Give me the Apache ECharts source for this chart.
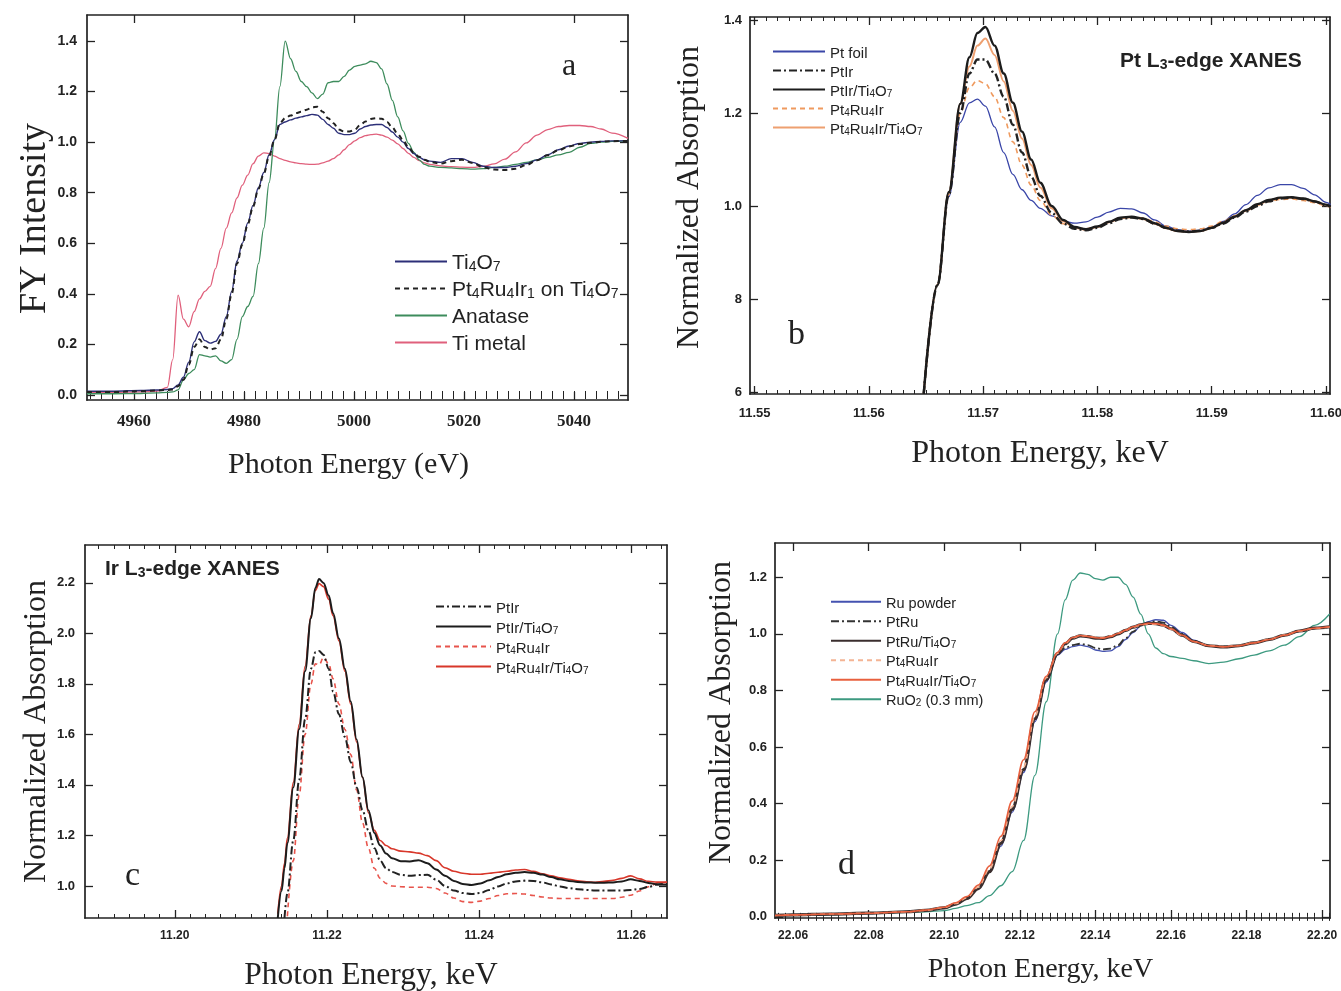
<!DOCTYPE html>
<html><head><meta charset="utf-8">
<script src="https://cdn.jsdelivr.net/npm/echarts@6/dist/echarts.min.js"></script>
<style>html,body{margin:0;padding:0;background:#fff}#c{width:1341px;height:991px}</style>
</head><body><div id="c"></div>
<script>
// ================= DATA =================
// Panel a : Ti K-edge, FY intensity vs photon energy (eV)
const aEnergy = [4951.45,4956.32,4961.19,4964.11,4966.06,4967.03,4968.01,4968.98,4969.95,4970.93,4971.90,4972.88,4973.85,4974.82,4975.80,4976.77,4977.75,4978.72,4979.69,4980.67,4981.64,4982.61,4983.59,4984.56,4985.54,4986.51,4987.48,4988.46,4989.43,4990.41,4991.38,4992.35,4993.33,4994.30,4995.28,4996.25,4997.22,4998.20,4999.17,5000.14,5001.12,5002.09,5003.07,5004.04,5005.01,5005.99,5006.96,5007.94,5008.91,5009.88,5010.86,5011.83,5012.81,5013.78,5015.73,5017.67,5019.62,5021.57,5023.52,5025.47,5027.41,5029.36,5031.31,5033.26,5035.20,5037.15,5039.10,5041.05,5043.00,5044.94,5046.89,5049.81];
const aTi4O7 = [0.015,0.015,0.018,0.02,0.022,0.025,0.04,0.07,0.13,0.21,0.25,0.215,0.205,0.212,0.24,0.31,0.41,0.53,0.60,0.68,0.75,0.82,0.88,0.95,1.01,1.07,1.08,1.088,1.095,1.10,1.105,1.11,1.107,1.09,1.07,1.055,1.035,1.03,1.03,1.035,1.052,1.062,1.068,1.07,1.07,1.058,1.04,1.02,1.0,0.975,0.955,0.94,0.93,0.925,0.92,0.935,0.935,0.92,0.905,0.90,0.90,0.905,0.915,0.93,0.95,0.97,0.985,0.995,1.0,1.003,1.005,1.006];
const aPtRuIrOnTi4O7 = [0.012,0.012,0.015,0.018,0.02,0.022,0.035,0.06,0.12,0.19,0.22,0.19,0.18,0.185,0.22,0.30,0.40,0.52,0.595,0.675,0.745,0.815,0.875,0.945,1.01,1.075,1.095,1.105,1.115,1.12,1.128,1.138,1.14,1.12,1.095,1.075,1.05,1.042,1.042,1.05,1.068,1.082,1.092,1.095,1.093,1.08,1.058,1.032,1.008,0.98,0.958,0.942,0.93,0.922,0.915,0.925,0.93,0.918,0.90,0.892,0.89,0.895,0.91,0.928,0.948,0.968,0.983,0.993,0.998,1.002,1.004,1.005];
const aAnatase = [0.005,0.005,0.006,0.008,0.01,0.012,0.02,0.06,0.085,0.10,0.16,0.155,0.15,0.155,0.135,0.125,0.14,0.22,0.31,0.35,0.39,0.52,0.66,0.84,1.01,1.22,1.40,1.33,1.28,1.24,1.22,1.195,1.172,1.19,1.235,1.24,1.24,1.26,1.285,1.30,1.305,1.31,1.32,1.315,1.29,1.23,1.165,1.10,1.045,0.995,0.96,0.93,0.912,0.905,0.90,0.898,0.895,0.893,0.895,0.90,0.905,0.912,0.92,0.93,0.94,0.95,0.96,0.98,0.995,1.0,1.003,1.005];
const aTiMetal = [0.01,0.01,0.012,0.015,0.03,0.14,0.395,0.30,0.27,0.33,0.38,0.41,0.43,0.50,0.58,0.66,0.72,0.78,0.83,0.87,0.915,0.945,0.958,0.955,0.945,0.935,0.928,0.922,0.918,0.915,0.913,0.912,0.913,0.918,0.925,0.935,0.95,0.97,0.99,1.005,1.018,1.026,1.03,1.032,1.028,1.02,1.008,0.993,0.975,0.956,0.94,0.927,0.918,0.912,0.906,0.903,0.901,0.90,0.904,0.914,0.933,0.962,0.997,1.028,1.05,1.062,1.066,1.066,1.062,1.052,1.036,1.015];

// Panel b : Pt L3-edge XANES (keV)
const bEnergy = [11.5648,11.566,11.567,11.568,11.5688,11.5695,11.5702,11.571,11.5718,11.5726,11.5734,11.5742,11.575,11.576,11.577,11.578,11.579,11.58,11.581,11.582,11.583,11.584,11.585,11.586,11.587,11.588,11.589,11.59,11.591,11.592,11.593,11.594,11.595,11.596,11.597,11.598,11.599,11.6,11.6004];
const bPtFoil = [0.596,0.83,1.02,1.18,1.222,1.23,1.215,1.17,1.115,1.068,1.035,1.012,0.995,0.979,0.968,0.963,0.966,0.976,0.987,0.995,0.994,0.985,0.97,0.957,0.949,0.946,0.948,0.955,0.967,0.983,1.003,1.023,1.039,1.046,1.046,1.038,1.024,1.008,1.003];
const bPtIr = [0.596,0.83,1.025,1.2,1.285,1.315,1.315,1.285,1.235,1.175,1.115,1.063,1.022,0.985,0.962,0.951,0.948,0.953,0.963,0.972,0.975,0.972,0.962,0.953,0.947,0.945,0.947,0.953,0.962,0.975,0.988,1.0,1.01,1.016,1.018,1.015,1.01,1.002,0.998];
const bPtIrTi4O7 = [0.596,0.83,1.03,1.22,1.32,1.372,1.385,1.345,1.285,1.222,1.16,1.10,1.05,1.0,0.97,0.955,0.95,0.956,0.966,0.975,0.977,0.973,0.963,0.953,0.946,0.944,0.946,0.953,0.964,0.977,0.991,1.004,1.013,1.018,1.019,1.016,1.01,1.003,0.999];
const bPt4Ru4Ir = [0.596,0.83,1.025,1.2,1.255,1.27,1.263,1.235,1.19,1.138,1.088,1.045,1.012,0.98,0.962,0.953,0.951,0.955,0.965,0.974,0.977,0.974,0.966,0.957,0.951,0.949,0.951,0.957,0.967,0.979,0.991,1.002,1.01,1.014,1.015,1.012,1.007,1.0,0.997];
const bPt4Ru4IrTi4O7 = [0.596,0.83,1.03,1.22,1.30,1.345,1.36,1.325,1.268,1.205,1.145,1.088,1.04,0.995,0.967,0.953,0.949,0.955,0.965,0.974,0.976,0.972,0.962,0.952,0.946,0.944,0.946,0.953,0.964,0.977,0.99,1.003,1.012,1.017,1.018,1.015,1.009,1.002,0.998];

// Panel c : Ir L3-edge XANES (keV)
const cEnergy = [11.21354,11.21403,11.21442,11.21480,11.21558,11.21635,11.21713,11.21790,11.21848,11.21897,11.21955,11.22023,11.22081,11.22158,11.22236,11.22313,11.22390,11.22468,11.22545,11.22623,11.22700,11.22778,11.22855,11.22971,11.23088,11.23204,11.23320,11.23436,11.23552,11.23669,11.23785,11.23901,11.24017,11.24133,11.24250,11.24366,11.24482,11.24598,11.24714,11.24831,11.24947,11.25063,11.25179,11.25295,11.25412,11.25528,11.25644,11.25760,11.25876,11.25993,11.26109,11.26225,11.26341,11.2647];
const cPtIr = [null,null,0.873,0.97,1.18,1.42,1.66,1.86,1.925,1.93,1.915,1.86,1.77,1.68,1.59,1.49,1.39,1.30,1.22,1.15,1.10,1.07,1.055,1.044,1.04,1.043,1.044,1.025,1.0,0.982,0.972,0.968,0.972,0.984,0.998,1.01,1.018,1.021,1.02,1.014,1.006,0.998,0.991,0.987,0.984,0.982,0.982,0.982,0.982,0.984,0.988,0.996,1.006,1.01];
const cPtIrTi4O7 = [0.873,0.98,1.07,1.17,1.39,1.62,1.85,2.06,2.18,2.215,2.20,2.15,2.08,1.98,1.86,1.73,1.58,1.43,1.30,1.21,1.16,1.128,1.11,1.098,1.097,1.102,1.09,1.065,1.04,1.02,1.008,1.004,1.01,1.022,1.035,1.046,1.052,1.055,1.052,1.045,1.035,1.026,1.02,1.016,1.014,1.013,1.013,1.014,1.018,1.026,1.02,1.012,1.006,1.005];
const cPt4Ru4Ir = [null,null,null,0.88,1.1,1.36,1.60,1.80,1.88,1.875,1.905,1.88,1.82,1.72,1.62,1.52,1.38,1.25,1.15,1.07,1.03,1.01,1.0,0.997,0.995,0.995,0.995,0.99,0.972,0.952,0.938,0.935,0.94,0.95,0.962,0.969,0.97,0.968,0.962,0.956,0.952,0.95,0.95,0.95,0.95,0.95,0.95,0.95,0.955,0.963,0.98,0.997,1.01,1.015];
const cPt4Ru4IrTi4O7 = [0.89,1.0,1.09,1.19,1.41,1.64,1.87,2.07,2.17,2.197,2.185,2.135,2.07,1.97,1.85,1.72,1.57,1.43,1.29,1.22,1.18,1.16,1.147,1.138,1.135,1.13,1.12,1.1,1.072,1.058,1.05,1.046,1.046,1.05,1.054,1.058,1.063,1.065,1.058,1.048,1.04,1.032,1.026,1.02,1.016,1.014,1.018,1.022,1.03,1.04,1.028,1.018,1.015,1.015];

// Panel d : Ru K-edge XANES (keV)
const dEnergy = [22.0552,22.06,22.07,22.08,22.09,22.095,22.1,22.103,22.106,22.109,22.112,22.115,22.118,22.121,22.124,22.127,22.13,22.132,22.134,22.136,22.138,22.14,22.142,22.144,22.146,22.148,22.15,22.152,22.154,22.156,22.158,22.16,22.163,22.166,22.17,22.174,22.178,22.182,22.186,22.19,22.194,22.198,22.202];
const dRuPowder = [0.005,0.007,0.01,0.013,0.018,0.023,0.032,0.045,0.065,0.10,0.16,0.25,0.37,0.51,0.69,0.83,0.925,0.945,0.955,0.96,0.955,0.943,0.938,0.94,0.955,0.98,1.005,1.028,1.043,1.05,1.048,1.03,1.005,0.978,0.958,0.954,0.958,0.968,0.98,0.995,1.01,1.02,1.025];
const dPtRu = [0.005,0.007,0.01,0.013,0.018,0.023,0.032,0.045,0.065,0.10,0.16,0.26,0.38,0.52,0.70,0.835,0.93,0.95,0.96,0.965,0.96,0.95,0.945,0.948,0.96,0.985,1.008,1.028,1.04,1.044,1.04,1.025,1.0,0.975,0.957,0.954,0.958,0.968,0.98,0.995,1.01,1.02,1.025];
const dPtRuTi4O7 = [0.005,0.007,0.01,0.013,0.018,0.023,0.032,0.045,0.065,0.10,0.16,0.26,0.38,0.52,0.70,0.84,0.93,0.965,0.985,0.993,0.99,0.985,0.984,0.99,1.0,1.012,1.024,1.032,1.037,1.036,1.031,1.018,0.995,0.973,0.958,0.954,0.958,0.968,0.98,0.995,1.01,1.02,1.025];
const dPt4Ru4Ir = [0.005,0.007,0.01,0.013,0.018,0.023,0.033,0.047,0.068,0.105,0.17,0.27,0.39,0.53,0.71,0.845,0.932,0.966,0.986,0.994,0.992,0.988,0.987,0.992,1.002,1.013,1.024,1.031,1.035,1.034,1.029,1.016,0.994,0.973,0.959,0.955,0.959,0.969,0.981,0.996,1.01,1.019,1.024];
const dPt4Ru4IrTi4O7 = [0.005,0.007,0.01,0.013,0.018,0.024,0.034,0.05,0.072,0.112,0.18,0.285,0.41,0.555,0.725,0.85,0.935,0.968,0.987,0.994,0.991,0.986,0.985,0.991,1.001,1.013,1.025,1.033,1.037,1.036,1.031,1.018,0.995,0.973,0.958,0.954,0.958,0.968,0.98,0.995,1.01,1.02,1.025];
const dRuO2 = [0.005,0.006,0.008,0.012,0.016,0.018,0.022,0.03,0.04,0.05,0.075,0.11,0.16,0.27,0.50,0.76,1.0,1.12,1.19,1.215,1.21,1.195,1.19,1.2,1.2,1.175,1.13,1.07,1.0,0.95,0.93,0.92,0.913,0.905,0.895,0.9,0.912,0.925,0.94,0.96,0.99,1.03,1.07];

// Tick labels
const aXTicks = [4960,4980,5000,5020,5040];
const aYTicks = [0,0.2,0.4,0.6,0.8,1.0,1.2,1.4];
const bXTicks = [11.55,11.56,11.57,11.58,11.59,11.60];
const bYTicks = [0.6,0.8,1.0,1.2,1.4];
const bYLabels = ['6','8','1.0','1.2','1.4'];
const cXTicks = [11.20,11.22,11.24,11.26];
const cYTicks = [1.0,1.2,1.4,1.6,1.8,2.0,2.2];
const dXTicks = [22.06,22.08,22.10,22.12,22.14,22.16,22.18,22.20];
const dYTicks = [0,0.2,0.4,0.6,0.8,1.0,1.2];

// ================= BUILD =================
const SANS = '"Liberation Sans", Arial, sans-serif';
const SERIF = '"Liberation Serif", "Times New Roman", serif';
const INK = '#222';

function steps(a, b, s) { const out = []; const n = Math.round((b - a) / s); for (let i = 0; i <= n; i++) out.push(+(a + i * s).toFixed(6)); return out; }
function pairs(xs, ys) { const out = []; for (let i = 0; i < xs.length; i++) if (ys[i] != null) out.push([xs[i], ys[i]]); return out; }
function richName(str) {
  return str.split(/(_\d)/).filter(t => t).map(t => t[0] === '_' ? '{s|' + t.slice(1) + '}' : '{n|' + t + '}').join('');
}
function richStyles(fs, weight) {
  const ss = Math.round(fs * 0.66);
  return {
    n: { fontSize: fs, lineHeight: fs + 4, verticalAlign: 'bottom', fontFamily: SANS, color: INK, fontWeight: weight || 'normal' },
    s: { fontSize: ss, lineHeight: ss, verticalAlign: 'bottom', fontFamily: SANS, color: INK, fontWeight: weight || 'normal' }
  };
}

const grids = [], xAxes = [], yAxes = [], series = [], legends = [];

function panel(p) {
  const gi = grids.length;
  grids.push({ left: p.box[0], top: p.box[1], width: p.box[2], height: p.box[3], outerBoundsMode: 'none', containLabel: false });
  const line = { show: true, onZero: false, lineStyle: { color: INK, width: 1.7 } };
  const xi = xAxes.length;
  const xBase = { type: 'value', gridIndex: gi, min: p.x[0], max: p.x[1], splitLine: { show: false } };
  xAxes.push(Object.assign({}, xBase, {
    position: 'bottom', axisLine: line,
    axisTick: { show: true, inside: true, length: 8, customValues: p.xTicks, lineStyle: { color: INK, width: 1.3 } },
    axisLabel: { show: true, customValues: p.xTicks, formatter: p.xFmt, margin: p.xLabel.margin, fontSize: p.xLabel.size, fontFamily: p.xLabel.family, fontWeight: 'bold', color: INK },
    name: p.xName, nameLocation: 'middle', nameGap: p.xNameGap,
    nameTextStyle: { fontFamily: SERIF, fontSize: p.xNameSize || 30, color: INK, padding: p.xNamePad || 0 }
  }));
  xAxes.push(Object.assign({}, xBase, {
    position: 'bottom', axisLine: { show: false },
    axisTick: { show: true, inside: true, length: 4, customValues: p.xMinor, lineStyle: { color: INK, width: 1 } },
    axisLabel: { show: false }
  }));
  xAxes.push(Object.assign({}, xBase, {
    position: 'top', axisLine: line,
    axisTick: { show: true, inside: true, length: 8, customValues: p.xTicks, lineStyle: { color: INK, width: 1.3 } },
    axisLabel: { show: false }
  }));
  xAxes.push(Object.assign({}, xBase, {
    position: 'top', axisLine: { show: false },
    axisTick: { show: true, inside: true, length: 4, customValues: p.xMinor, lineStyle: { color: INK, width: 1 } },
    axisLabel: { show: false }
  }));
  const yi = yAxes.length;
  const yBase = { type: 'value', gridIndex: gi, min: p.y[0], max: p.y[1], splitLine: { show: false } };
  yAxes.push(Object.assign({}, yBase, {
    position: 'left', axisLine: line,
    axisTick: { show: true, inside: true, length: 8, customValues: p.yTicks, lineStyle: { color: INK, width: 1.3 } },
    axisLabel: { show: true, customValues: p.yTicks, formatter: p.yFmt, margin: p.yLabel.margin, fontSize: p.yLabel.size, fontFamily: SANS, fontWeight: 'bold', color: INK },
    name: p.yName, nameLocation: 'middle', nameGap: p.yNameGap, nameRotate: 90,
    nameTextStyle: { fontFamily: SERIF, fontSize: p.yNameSize || 32, color: INK, padding: p.yNamePad || 0 }
  }));
  yAxes.push(Object.assign({}, yBase, {
    position: 'right', axisLine: line,
    axisTick: { show: true, inside: true, length: 8, customValues: p.yTicks, lineStyle: { color: INK, width: 1.3 } },
    axisLabel: { show: false }
  }));
  const names = [];
  p.series.forEach(s => {
    const name = p.key + ':' + s.label;
    names.push(name);
    series.push({
      type: 'line', name: name, xAxisIndex: xi, yAxisIndex: yi,
      data: pairs(p.energy, s.values),
      showSymbol: false, symbol: 'none', smooth: 0.35, smoothMonotone: 'x', clip: true,
      lineStyle: { color: s.color, width: s.width, type: s.type || 'solid' },
      itemStyle: { color: s.color }, z: s.z || 2, animation: false
    });
  });
  legends.push(Object.assign({
    orient: 'vertical', selectedMode: false, data: p.legendOrder.map(i => names[i]),
    formatter: n => richName(n.slice(2)),
    itemStyle: { opacity: 0 },
    textStyle: { rich: richStyles(p.legend.size, p.legend.weight) }
  }, p.legend.pos));
}

const DASHDOT = [8, 3, 2, 3];
const DASH = [5, 4];

panel({
  key: 'a', box: [87, 15, 541, 385], x: [4951.45, 5049.8], y: [-0.0198, 1.503],
  xTicks: aXTicks, xMinor: steps(4952, 5048, 2), yTicks: aYTicks,
  xFmt: v => String(Math.round(v)), yFmt: v => v.toFixed(1),
  xLabel: { margin: 13, size: 17, family: SERIF }, yLabel: { margin: 10, size: 14 },
  xName: 'Photon Energy (eV)', xNameGap: 50, xNamePad: [0, 18, 0, 0],
  yName: 'FY Intensity', yNameGap: 16, yNameSize: 38, yNamePad: [0, 22, 0, 0],
  energy: aEnergy,
  series: [
    { label: 'Ti metal', values: aTiMetal, color: '#e0607c', width: 1.3 },
    { label: 'Anatase', values: aAnatase, color: '#3d8c5c', width: 1.3 },
    { label: 'Ti_4O_7', values: aTi4O7, color: '#2c2f78', width: 1.4 },
    { label: 'Pt_4Ru_4Ir_1 on Ti_4O_7', values: aPtRuIrOnTi4O7, color: '#222', width: 2, type: DASH, z: 3 }
  ],
  legendOrder: [2, 3, 1, 0],
  legend: { size: 21, pos: { left: 389, top: 248, itemWidth: 52, itemHeight: 12, itemGap: 6 } }
});

panel({
  key: 'b', box: [750, 17, 580, 377], x: [11.5496, 11.60035], y: [0.5957, 1.4065],
  xTicks: bXTicks, xMinor: steps(11.55, 11.60, 0.001), yTicks: bYTicks,
  xFmt: v => v.toFixed(2), yFmt: v => bYLabels[bYTicks.findIndex(t => Math.abs(t - v) < 1e-6)],
  xLabel: { margin: 13, size: 13, family: SANS }, yLabel: { margin: 8, size: 13 },
  xName: 'Photon Energy, keV', xNameGap: 44, xNameSize: 32, yName: 'Normalized Absorption', yNameGap: 44, yNamePad: [0, 0, 0, 16],
  energy: bEnergy,
  series: [
    { label: 'Pt foil', values: bPtFoil, color: '#3a46a8', width: 1.3 },
    { label: 'Pt_4Ru_4Ir', values: bPt4Ru4Ir, color: '#ef9a5e', width: 1.6, type: DASH },
    { label: 'Pt_4Ru_4Ir/Ti_4O_7', values: bPt4Ru4IrTi4O7, color: '#eea070', width: 2 },
    { label: 'PtIr', values: bPtIr, color: '#222', width: 2.4, type: DASHDOT, z: 3 },
    { label: 'PtIr/Ti_4O_7', values: bPtIrTi4O7, color: '#1c1c1c', width: 2.4, z: 3 }
  ],
  legendOrder: [0, 3, 4, 1, 2],
  legend: { size: 15, pos: { left: 767, top: 41, itemWidth: 52, itemHeight: 10, itemGap: 4 } }
});

panel({
  key: 'c', box: [85, 545, 582, 373], x: [11.1882, 11.2647], y: [0.873, 2.35],
  xTicks: cXTicks, xMinor: steps(11.19, 11.264, 0.002), yTicks: cYTicks,
  xFmt: v => v.toFixed(2), yFmt: v => v.toFixed(1),
  xLabel: { margin: 12, size: 12, family: SANS }, yLabel: { margin: 10, size: 13 },
  xName: 'Photon Energy, keV', xNameGap: 42, xNameSize: 31.5, xNamePad: [0, 10, 0, 0], yName: 'Normalized Absorption', yNameGap: 31,
  energy: cEnergy,
  series: [
    { label: 'Pt_4Ru_4Ir', values: cPt4Ru4Ir, color: '#e8544c', width: 1.6, type: DASH },
    { label: 'PtIr', values: cPtIr, color: '#222', width: 2, type: DASHDOT },
    { label: 'Pt_4Ru_4Ir/Ti_4O_7', values: cPt4Ru4IrTi4O7, color: '#d8372a', width: 1.6 },
    { label: 'PtIr/Ti_4O_7', values: cPtIrTi4O7, color: '#1c1c1c', width: 2, z: 3 }
  ],
  legendOrder: [1, 3, 0, 2],
  legend: { size: 15, pos: { left: 430, top: 596, itemWidth: 55, itemHeight: 10, itemGap: 5 } }
});

panel({
  key: 'd', box: [775, 543, 555, 375], x: [22.0552, 22.2021], y: [-0.004, 1.321],
  xTicks: dXTicks, xMinor: steps(22.056, 22.202, 0.002), yTicks: dYTicks,
  xFmt: v => v.toFixed(2), yFmt: v => v.toFixed(1),
  xLabel: { margin: 12, size: 12, family: SANS }, yLabel: { margin: 8, size: 13 },
  xName: 'Photon Energy, keV', xNameGap: 38, xNameSize: 28, xNamePad: [0, 24, 0, 0],
  yName: 'Normalized Absorption', yNameGap: 37, yNamePad: [0, 0, 0, 36],
  energy: dEnergy,
  series: [
    { label: 'RuO_2 (0.3 mm)', values: dRuO2, color: '#3d9a80', width: 1.3 },
    { label: 'Ru powder', values: dRuPowder, color: '#4452b0', width: 1.4 },
    { label: 'PtRu', values: dPtRu, color: '#333', width: 1.8, type: DASHDOT },
    { label: 'PtRu/Ti_4O_7', values: dPtRuTi4O7, color: '#3a2e2e', width: 3.2 },
    { label: 'Pt_4Ru_4Ir', values: dPt4Ru4Ir, color: '#f4b494', width: 1.6, type: DASH },
    { label: 'Pt_4Ru_4Ir/Ti_4O_7', values: dPt4Ru4IrTi4O7, color: '#e8603e', width: 1.6 }
  ],
  legendOrder: [1, 2, 3, 4, 5, 0],
  legend: { size: 14.5, pos: { left: 825, top: 591, itemWidth: 50, itemHeight: 10, itemGap: 4.5 } }
});

const titles = [
  { text: 'a', left: 557, top: 46, textStyle: { fontFamily: SERIF, fontSize: 32, fontWeight: 'normal', color: INK } },
  { text: 'b', left: 783, top: 313, textStyle: { fontFamily: SERIF, fontSize: 34, fontWeight: 'normal', color: INK } },
  { text: 'c', left: 120, top: 854, textStyle: { fontFamily: SERIF, fontSize: 34, fontWeight: 'normal', color: INK } },
  { text: 'd', left: 833, top: 843, textStyle: { fontFamily: SERIF, fontSize: 34, fontWeight: 'normal', color: INK } },
  { text: richName('Pt L_3-edge XANES'), left: 1115, top: 42, textStyle: { rich: richStyles(21, 'bold') } },
  { text: richName('Ir L_3-edge XANES'), left: 100, top: 550, textStyle: { rich: richStyles(21, 'bold') } }
];

const chart = echarts.init(document.getElementById('c'), null, { renderer: 'canvas' });
chart.setOption({
  backgroundColor: '#ffffff', animation: false,
  title: titles, grid: grids, xAxis: xAxes, yAxis: yAxes, legend: legends, series: series
});
</script></body></html>
